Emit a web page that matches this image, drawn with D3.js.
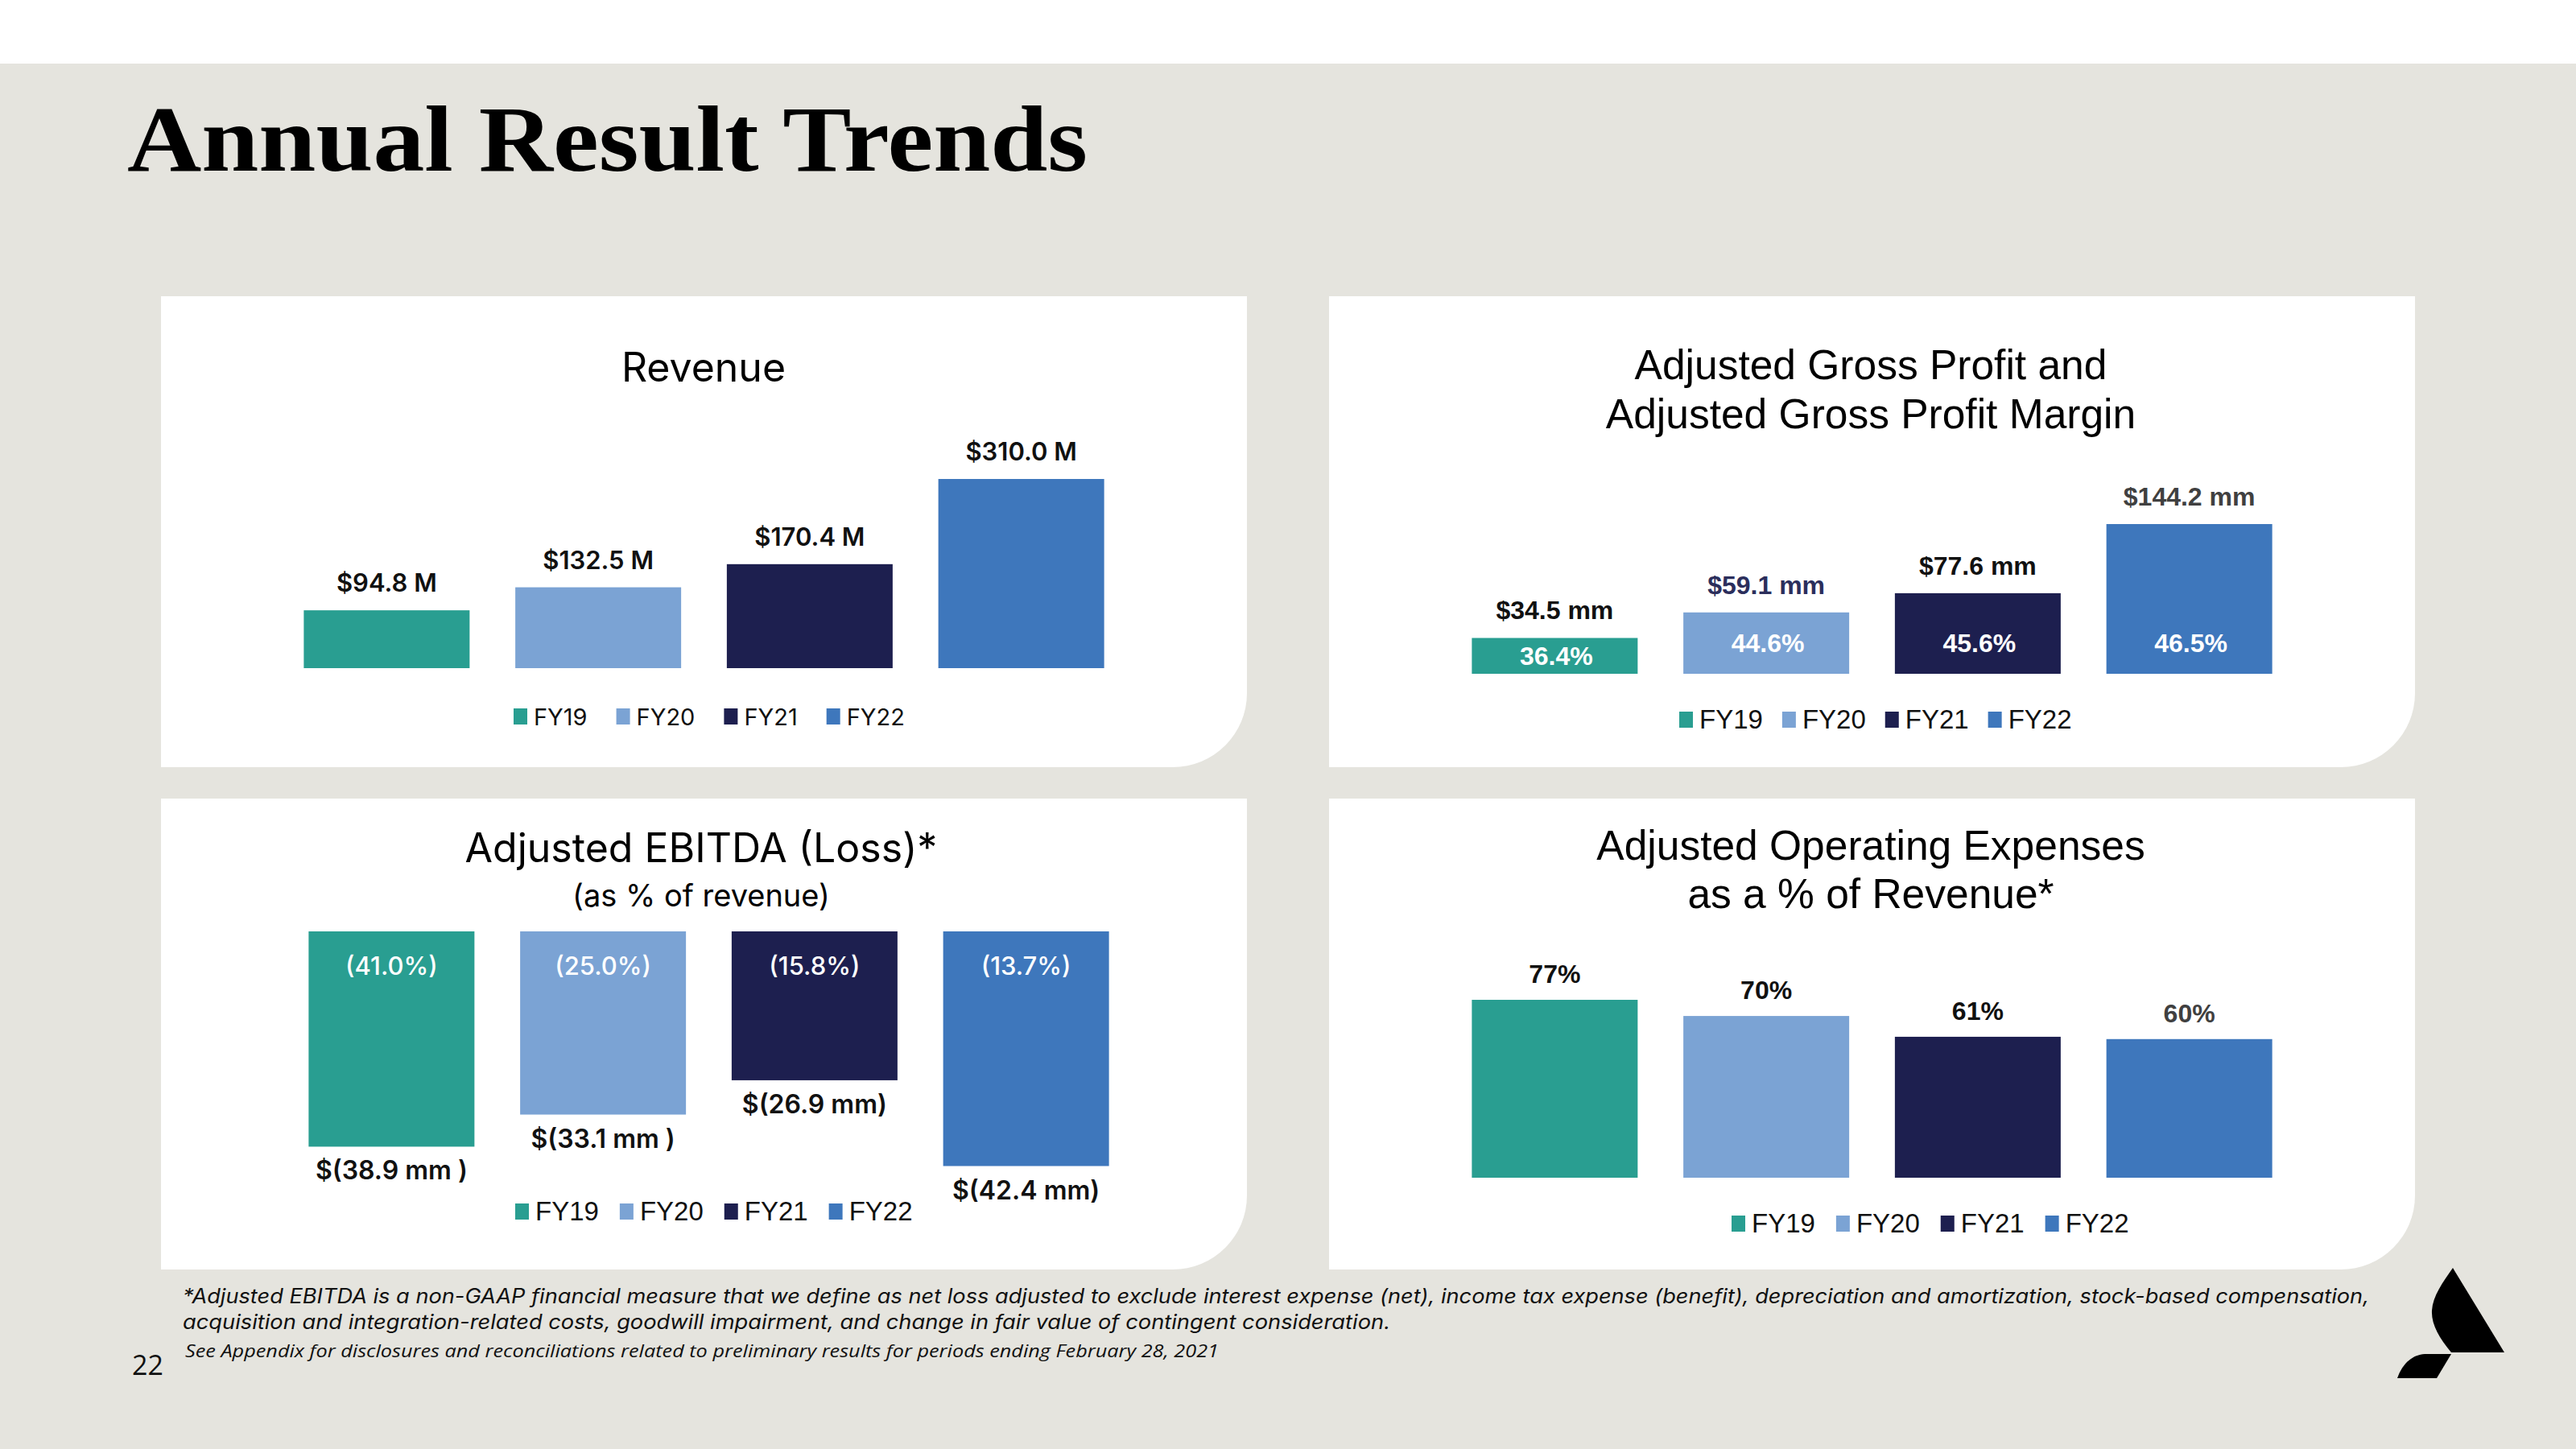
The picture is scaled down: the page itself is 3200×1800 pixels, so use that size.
<!DOCTYPE html>
<html>
<head>
<meta charset="utf-8">
<script src="https://cdn.jsdelivr.net/npm/d3@7"></script>
<style>
  html, body { margin: 0; padding: 0; background: #e5e4de; }
  svg { display: block; }
</style>
</head>
<body>
<svg id="chart" width="3200" height="1800"></svg>
<script>
// ---------------- DATA ----------------
const years = ["FY19", "FY20", "FY21", "FY22"];
const revenue = [94.8, 132.5, 170.4, 310.0];
const revenueLabels = ["$94.8 M", "$132.5 M", "$170.4 M", "$310.0 M"];
const grossProfit = [34.5, 59.1, 77.6, 144.2];
const grossProfitLabels = ["$34.5 mm", "$59.1 mm", "$77.6 mm", "$144.2 mm"];
const grossMargin = [36.4, 44.6, 45.6, 46.5];
const grossMarginLabels = ["36.4%", "44.6%", "45.6%", "46.5%"];
const ebitda = [-38.9, -33.1, -26.9, -42.4];
const ebitdaLabels = ["$(38.9 mm )", "$(33.1 mm )", "$(26.9 mm)", "$(42.4 mm)"];
const ebitdaPct = [-41.0, -25.0, -15.8, -13.7];
const ebitdaPctLabels = ["(41.0%)", "(25.0%)", "(15.8%)", "(13.7%)"];
const opexPct = [77, 70, 61, 60];
const opexLabels = ["77%", "70%", "61%", "60%"];

// ---------------- STYLE ----------------
const colors = ["#299e91", "#7ba3d4", "#1d1f4f", "#3e77bc"];
const gpLabelColors = ["#111111", "#2b2e5c", "#111111", "#404040"];
const opexLabelColors = ["#111111", "#111111", "#111111", "#404040"];
const GEO = "Inter, 'Noto Sans', sans-serif";
const ARIAL = "'Liberation Sans', Arial, sans-serif";

const svg = d3.select("#chart");

// background
svg.append("rect").attr("x", 0).attr("y", 0).attr("width", 3200).attr("height", 1800).attr("fill", "#e5e4de");
svg.append("rect").attr("x", 0).attr("y", 0).attr("width", 3200).attr("height", 79).attr("fill", "#ffffff");

// main title
svg.append("text")
  .attr("x", 158).attr("y", 212)
  .attr("font-family", "'Liberation Serif', 'DejaVu Serif', serif")
  .attr("font-weight", 700)
  .attr("font-size", 116)
  .attr("textLength", 1193)
  .attr("lengthAdjust", "spacingAndGlyphs")
  .attr("fill", "#000")
  .text("Annual Result Trends");

// panels with rounded bottom-right corner
function panel(x, y, w, h, r) {
  const p = d3.path();
  p.moveTo(x, y);
  p.lineTo(x + w, y);
  p.lineTo(x + w, y + h - r);
  p.arcTo(x + w, y + h, x + w - r, y + h, r);
  p.lineTo(x, y + h);
  p.closePath();
  svg.append("path").attr("d", p.toString()).attr("fill", "#ffffff");
}
panel(200, 368, 1349, 585, 92);
panel(1651, 368, 1349, 585, 92);
panel(200, 992, 1349, 585, 92);
panel(1651, 992, 1349, 585, 92);

function xScale(x0, x1) {
  return d3.scaleBand().domain(years).range([x0, x1]).paddingInner(0.216).paddingOuter(0.108);
}

function titleLines(lines, cx, y0, dy, font, size, weight) {
  lines.forEach((t, i) => {
    svg.append("text")
      .attr("x", cx).attr("y", y0 + i * dy)
      .attr("text-anchor", "middle")
      .attr("font-family", font)
      .attr("font-size", Array.isArray(size) ? size[i] : size)
      .attr("font-weight", weight || 400)
      .attr("fill", "#000")
      .text(t);
  });
}

function legend(x0, cy, font, size, gapAfterText) {
  const g = svg.append("g");
  let x = x0;
  years.forEach((yname, i) => {
    g.append("rect").attr("x", x).attr("y", cy - 10).attr("width", 17).attr("height", 20).attr("fill", colors[i]);
    const t = g.append("text")
      .attr("x", x + 25).attr("y", cy + 11)
      .attr("font-family", font).attr("font-size", size).attr("fill", "#111")
      .text(yname);
    const w = t.node().getComputedTextLength();
    x = x + 25 + w + gapAfterText;
  });
}

// ---------------- PANEL 1: REVENUE ----------------
{
  const x = xScale(349, 1400);
  const y = d3.scaleLinear().domain([0, 310]).range([830, 595]);
  const g = svg.append("g");
  g.selectAll("rect").data(revenue).join("rect")
    .attr("x", (d, i) => x(years[i]))
    .attr("width", x.bandwidth())
    .attr("y", d => y(d))
    .attr("height", d => y(0) - y(d))
    .attr("fill", (d, i) => colors[i]);
  g.selectAll("text.val").data(revenue).join("text")
    .attr("class", "val")
    .attr("x", (d, i) => x(years[i]) + x.bandwidth() / 2)
    .attr("y", d => y(d) - 23)
    .attr("text-anchor", "middle")
    .attr("font-family", GEO).attr("font-weight", 600).attr("font-size", 31)
    .attr("fill", "#111")
    .text((d, i) => revenueLabels[i]);
  titleLines(["Revenue"], 874, 474, 0, GEO, 50, 400);
  legend(638, 890, GEO, 29, 36);
}

// ---------------- PANEL 2: GROSS PROFIT ----------------
{
  const x = xScale(1800, 2851);
  const y = d3.scaleLinear().domain([0, 144.2]).range([837, 651]);
  const g = svg.append("g");
  g.selectAll("rect").data(grossProfit).join("rect")
    .attr("x", (d, i) => x(years[i]))
    .attr("width", x.bandwidth())
    .attr("y", d => y(d))
    .attr("height", d => y(0) - y(d))
    .attr("fill", (d, i) => colors[i]);
  g.selectAll("text.val").data(grossProfit).join("text")
    .attr("class", "val")
    .attr("x", (d, i) => x(years[i]) + x.bandwidth() / 2)
    .attr("y", d => y(d) - 23)
    .attr("text-anchor", "middle")
    .attr("font-family", ARIAL).attr("font-weight", 700).attr("font-size", 32)
    .attr("fill", (d, i) => gpLabelColors[i])
    .text((d, i) => grossProfitLabels[i]);
  g.selectAll("text.pct").data(grossMargin).join("text")
    .attr("class", "pct")
    .attr("x", (d, i) => x(years[i]) + x.bandwidth() / 2 + 2)
    .attr("y", (d, i) => Math.max((y(grossProfit[i]) + y(0)) / 2 + 11, y(0) - 27))
    .attr("text-anchor", "middle")
    .attr("font-family", ARIAL).attr("font-weight", 700).attr("font-size", 32)
    .attr("fill", "#ffffff")
    .text((d, i) => grossMarginLabels[i]);
  titleLines(["Adjusted Gross Profit and", "Adjusted Gross Profit Margin"], 2324, 471, 61, ARIAL, 51.5, 400);
  legend(2086, 894, ARIAL, 33, 24);
}

// ---------------- PANEL 3: ADJUSTED EBITDA ----------------
{
  const x = xScale(355, 1406);
  const y = d3.scaleLinear().domain([0, -42.4]).range([1157, 1448.5]);
  const g = svg.append("g");
  g.selectAll("rect").data(ebitda).join("rect")
    .attr("x", (d, i) => x(years[i]))
    .attr("width", x.bandwidth())
    .attr("y", y(0))
    .attr("height", d => y(d) - y(0))
    .attr("fill", (d, i) => colors[i]);
  g.selectAll("text.pct").data(ebitdaPct).join("text")
    .attr("class", "pct")
    .attr("x", (d, i) => x(years[i]) + x.bandwidth() / 2)
    .attr("y", y(0) + 54)
    .attr("text-anchor", "middle")
    .attr("font-family", GEO).attr("font-weight", 500).attr("font-size", 31)
    .attr("fill", "#ffffff")
    .text((d, i) => ebitdaPctLabels[i]);
  g.selectAll("text.val").data(ebitda).join("text")
    .attr("class", "val")
    .attr("x", (d, i) => x(years[i]) + x.bandwidth() / 2)
    .attr("y", d => y(d) + 41)
    .attr("text-anchor", "middle")
    .attr("font-family", GEO).attr("font-weight", 600).attr("font-size", 32)
    .attr("fill", "#111")
    .text((d, i) => ebitdaLabels[i]);
  titleLines(["Adjusted EBITDA (Loss)*"], 871, 1071, 0, GEO, 50, 400);
  titleLines(["(as % of revenue)"], 871, 1126, 0, GEO, 38, 400);
  legend(640, 1505, ARIAL, 33, 26);
}

// ---------------- PANEL 4: ADJUSTED OPEX ----------------
{
  const x = xScale(1800, 2851);
  const y = d3.scaleLinear().domain([0, 77]).range([1463, 1242]);
  const g = svg.append("g");
  g.selectAll("rect").data(opexPct).join("rect")
    .attr("x", (d, i) => x(years[i]))
    .attr("width", x.bandwidth())
    .attr("y", d => y(d))
    .attr("height", d => y(0) - y(d))
    .attr("fill", (d, i) => colors[i]);
  g.selectAll("text.val").data(opexPct).join("text")
    .attr("class", "val")
    .attr("x", (d, i) => x(years[i]) + x.bandwidth() / 2)
    .attr("y", d => y(d) - 21)
    .attr("text-anchor", "middle")
    .attr("font-family", ARIAL).attr("font-weight", 700).attr("font-size", 32)
    .attr("fill", (d, i) => opexLabelColors[i])
    .text((d, i) => opexLabels[i]);
  titleLines(["Adjusted Operating Expenses", "as a % of Revenue*"], 2324, 1068, 60, ARIAL, 51.5, 400);
  legend(2151, 1520, ARIAL, 33, 26);
}

// ---------------- FOOTNOTES ----------------
svg.append("text")
  .attr("x", 227).attr("y", 1619)
  .attr("font-family", GEO).attr("font-style", "italic").attr("font-size", 25)
  .attr("textLength", 2716).attr("lengthAdjust", "spacingAndGlyphs")
  .attr("fill", "#111")
  .text("*Adjusted EBITDA is a non-GAAP financial measure that we define as net loss adjusted to exclude interest expense (net), income tax expense (benefit), depreciation and amortization, stock-based compensation,");
svg.append("text")
  .attr("x", 227).attr("y", 1651)
  .attr("font-family", GEO).attr("font-style", "italic").attr("font-size", 25)
  .attr("textLength", 1500).attr("lengthAdjust", "spacingAndGlyphs")
  .attr("fill", "#111")
  .text("acquisition and integration-related costs,  goodwill impairment,  and change in fair value of contingent consideration.");
svg.append("text")
  .attr("x", 230).attr("y", 1686)
  .attr("font-family", "'Open Sans', 'Liberation Sans', sans-serif").attr("font-style", "italic").attr("font-size", 22)
  .attr("textLength", 1284).attr("lengthAdjust", "spacingAndGlyphs")
  .attr("fill", "#111")
  .text("See Appendix for disclosures  and reconciliations related to preliminary results for periods ending February 28, 2021");
svg.append("text")
  .attr("x", 164).attr("y", 1708)
  .attr("font-family", "'Open Sans', 'Liberation Sans', sans-serif").attr("font-size", 34)
  .attr("fill", "#111")
  .text("22");

// ---------------- LOGO ----------------
svg.append("path")
  .attr("d", "M3047,1575 L3111,1680 L3045,1680 C3030,1662 3020,1645 3021,1628 C3022,1610 3035,1592 3047,1575 Z")
  .attr("fill", "#000");
svg.append("path")
  .attr("d", "M3045,1682 L3027,1712 L2978,1712 C2985,1692 2998,1683 3012,1682 Z")
  .attr("fill", "#000");
</script>
</body>
</html>
